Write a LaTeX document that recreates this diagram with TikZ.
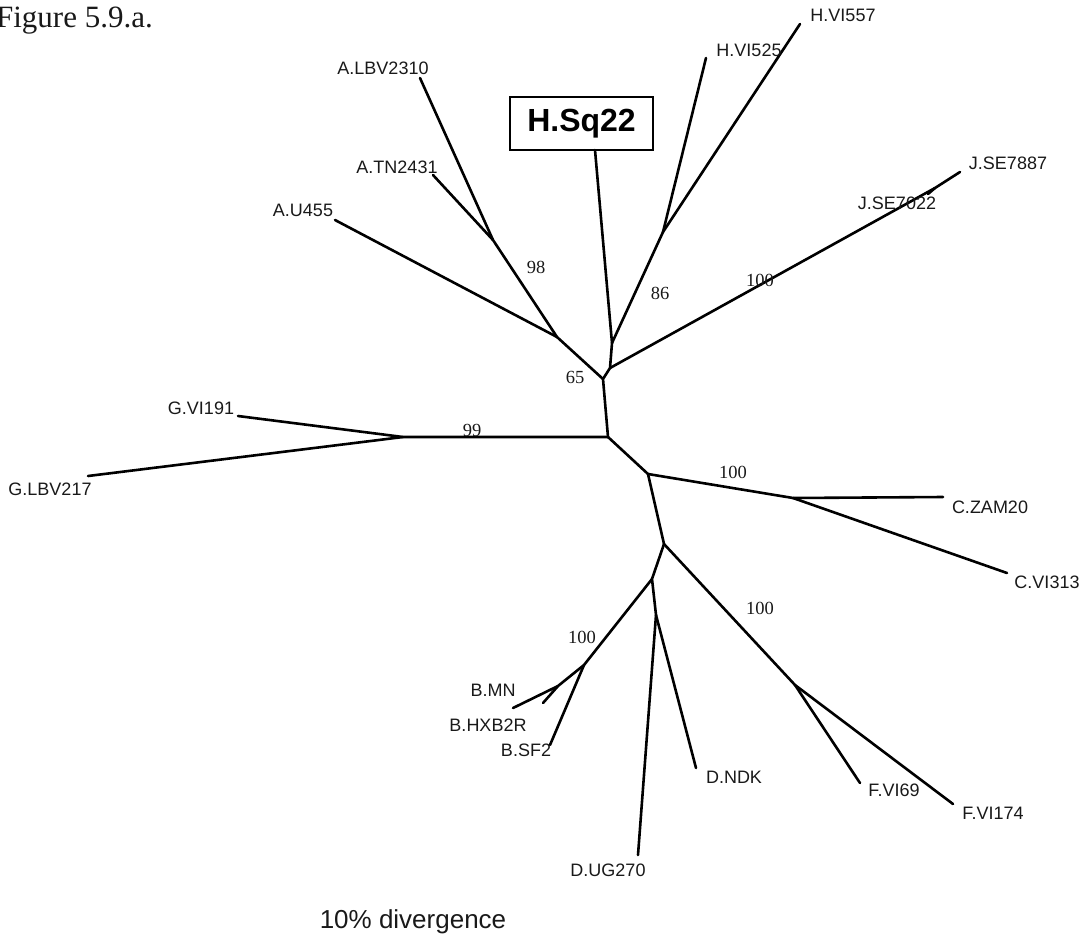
\documentclass[tikz,border=0pt]{standalone}
\usepackage{fontspec}
\setmainfont{Liberation Serif}
\setsansfont{Liberation Sans}
\begin{document}
\begin{tikzpicture}[x=1pt,y=-1pt,
  br/.style={line width=2.6pt, line cap=round, line join=round},
  lab/.style={font=\sffamily\fontsize{18}{20}\selectfont, inner sep=0pt, text=black!90},
  bs/.style={font=\rmfamily\fontsize{18.5}{20}\selectfont, inner sep=0pt, text=black!90}]
\useasboundingbox (0,0) rectangle (1090,946);
% title
\node[font=\rmfamily\fontsize{31}{33}\selectfont, anchor=base east, inner sep=0pt, text=black!90] (title) at (153,27) {Figure 5.9.a.};
% internal nodes
\coordinate (n65) at (603,379);
\coordinate (nJ) at (610,368);
\coordinate (nHS) at (612,343);
\coordinate (nH) at (663,232);
\coordinate (nA) at (557,337);
\coordinate (nA98) at (493,240);
\coordinate (nJJ) at (935,188);
\coordinate (c0) at (608,437);
\coordinate (nG) at (403,437);
\coordinate (nC) at (648,474);
\coordinate (nCC) at (793,498);
\coordinate (nDBF) at (664,544);
\coordinate (nF) at (795,685);
\coordinate (nDB) at (652,579);
\coordinate (nD) at (656,615);
\coordinate (nB) at (584,665);
\coordinate (nBB) at (558,686);
% tips
\coordinate (tLBV) at (420,78);
\coordinate (tTN) at (433,175);
\coordinate (tU) at (335,220);
\coordinate (tH525) at (706,58);
\coordinate (tH557) at (800,24);
\coordinate (tJ87) at (960,172);
\coordinate (tJ22) at (928,194);
\coordinate (tG191) at (238,416);
\coordinate (tG217) at (88,476);
\coordinate (tZAM) at (943,497);
\coordinate (tC313) at (1007,573);
\coordinate (tF69) at (860,783);
\coordinate (tF174) at (953,804);
\coordinate (tNDK) at (696,768);
\coordinate (tUG) at (638,855);
\coordinate (tMN) at (513,708);
\coordinate (tHXB) at (543,703);
\coordinate (tSF2) at (550,745);
% H.Sq22 box
\node[draw, line width=2pt, minimum width=143pt, minimum height=53pt, inner sep=0pt,
      font=\sffamily\bfseries\fontsize{32}{34}\selectfont] (sq) at (581.5,123.5) {H.Sq22};
\coordinate (tSq) at (595,150);
% branches
\draw[br] (c0) -- (n65) -- (nJ) -- (nHS) -- (tSq);
\draw[br] (nHS) -- (nH) -- (tH557);
\draw[br] (nH) -- (tH525);
\draw[br] (nJ) -- (nJJ) -- (tJ87);
\draw[br] (nJJ) -- (tJ22);
\draw[br] (n65) -- (nA) -- (nA98) -- (tLBV);
\draw[br] (nA98) -- (tTN);
\draw[br] (nA) -- (tU);
\draw[br] (c0) -- (nG) -- (tG191);
\draw[br] (nG) -- (tG217);
\draw[br] (c0) -- (nC) -- (nCC) -- (tZAM);
\draw[br] (nCC) -- (tC313);
\draw[br] (nC) -- (nDBF) -- (nF) -- (tF174);
\draw[br] (nF) -- (tF69);
\draw[br] (nDBF) -- (nDB) -- (nD) -- (tUG);
\draw[br] (nD) -- (tNDK);
\draw[br] (nDB) -- (nB) -- (nBB) -- (tMN);
\draw[br] (nBB) -- (tHXB);
\draw[br] (nB) -- (tSF2);
% leaf labels
\node[lab] (lLBV) at (383,68) {A.LBV2310};
\node[lab] (lTN) at (397,167) {A.TN2431};
\node[lab] (lU) at (303,210) {A.U455};
\node[lab] (lH525) at (749,50) {H.VI525};
\node[lab] (lH557) at (843,15) {H.VI557};
\node[lab] (lJ87) at (1008,163) {J.SE7887};
\node[lab] (lJ22) at (897,203) {J.SE7022};
\node[lab] (lG191) at (201,408) {G.VI191};
\node[lab] (lG217) at (50,489) {G.LBV217};
\node[lab] (lZAM) at (990,507) {C.ZAM20};
\node[lab] (lC313) at (1047,582) {C.VI313};
\node[lab] (lF69) at (894,790) {F.VI69};
\node[lab] (lF174) at (993,813) {F.VI174};
\node[lab] (lNDK) at (734,777) {D.NDK};
\node[lab] (lUG) at (608,870) {D.UG270};
\node[lab] (lMN) at (493,690) {B.MN};
\node[lab] (lHXB) at (488,725) {B.HXB2R};
\node[lab] (lSF2) at (526,750) {B.SF2};
% bootstrap values
\node[bs] (b98) at (536,267) {98};
\node[bs] (b86) at (660,293) {86};
\node[bs] (bJ) at (760,280) {100};
\node[bs] (b65) at (575,377) {65};
\node[bs] (b99) at (472,430) {99};
\node[bs] (bC) at (733,472) {100};
\node[bs] (bF) at (760,608) {100};
\node[bs] (bB) at (582,637) {100};
% scale
\node[font=\sffamily\fontsize{26}{28}\selectfont, inner sep=0pt, text=black!90] (scale) at (413,922) {10\% divergence};
\end{tikzpicture}
\end{document}
